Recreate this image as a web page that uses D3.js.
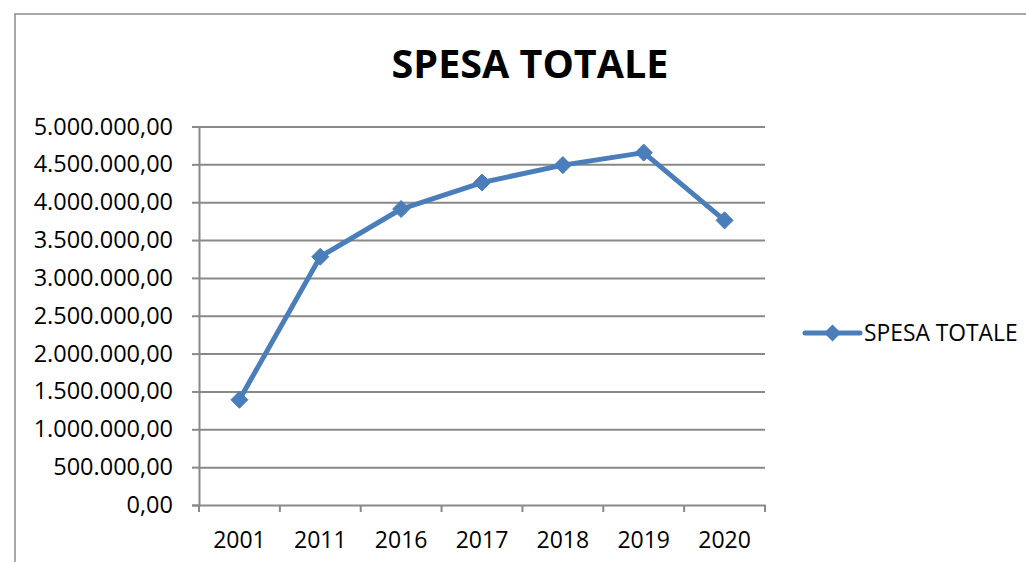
<!DOCTYPE html>
<html>
<head>
<meta charset="utf-8">
<script src="https://cdn.jsdelivr.net/npm/d3@7"></script>
<style>
  html, body { margin: 0; padding: 0; background: #fff; }
  svg { display: block; font-family: 'Open Sans', sans-serif; }
</style>
</head>
<body>
<div id="chart"></div>
<script>
// Data
const years = ['2001', '2011', '2016', '2017', '2018', '2019', '2020'];
const spesaTotale = [1390000, 3280000, 3910000, 4260000, 4490000, 4655000, 3760000];
const yTicks = [0, 500000, 1000000, 1500000, 2000000, 2500000, 3000000, 3500000, 4000000, 4500000, 5000000];
const seriesName = 'SPESA TOTALE';

const width = 1026;
const height = 562;
const lineColor = '#4a7ebb';
const axisColor = '#898989';

const svg = d3.select('#chart')
  .append('svg')
  .attr('width', width)
  .attr('height', height);

// Chart frame (cut off at right and bottom)
svg.append('path')
  .attr('d', `M15,${height} L15,14 L${width},14`)
  .attr('fill', 'none')
  .attr('stroke', '#8c8c8c')
  .attr('stroke-width', 1.5);

// Title
svg.append('text')
  .attr('x', 530)
  .attr('y', 78)
  .attr('text-anchor', 'middle')
  .attr('font-size', '39.5px')
  .attr('font-weight', 'bold')
  .attr('fill', '#000')
  .text('SPESA TOTALE');

const margin = { top: 126.5, left: 199, right: 765, bottom: 505 };

const x = d3.scaleBand()
  .domain(years)
  .range([margin.left, margin.right]);

const y = d3.scaleLinear()
  .domain([0, 5000000])
  .range([margin.bottom, margin.top]);

const itLocale = d3.formatLocale({ decimal: ',', thousands: '.', grouping: [3], currency: ['', ''] });
const fmt = itLocale.format(',.2f');

// Gridlines + Y axis
const yAxis = svg.append('g')
  .attr('transform', `translate(${margin.left},0)`)
  .call(d3.axisLeft(y)
    .tickValues(yTicks)
    .tickSize(7)
    .tickPadding(19)
    .tickFormat(fmt));
yAxis.select('.domain').attr('stroke', axisColor).attr('stroke-width', 2);
yAxis.selectAll('.tick line').attr('stroke', axisColor).attr('stroke-width', 2);
yAxis.selectAll('.tick text')
  .attr('font-size', '23.5px')
  .attr('font-family', "'Open Sans', sans-serif")
  .attr('fill', '#000');
yAxis.selectAll('.tick')
  .filter(d => d > 0)
  .append('line')
  .attr('x1', 0)
  .attr('x2', margin.right - margin.left)
  .attr('stroke', axisColor)
  .attr('stroke-width', 2);

// X axis
const xAxis = svg.append('g')
  .attr('transform', `translate(0,${margin.bottom})`)
  .call(d3.axisBottom(x).tickSize(0).tickPadding(27));
xAxis.select('.domain').attr('stroke', axisColor).attr('stroke-width', 2);
xAxis.selectAll('.tick text')
  .attr('font-size', '23px')
  .attr('font-family', "'Open Sans', sans-serif")
  .attr('fill', '#000');
// category boundary ticks
const bounds = years.map(d => x(d)).concat([x(years[years.length - 1]) + x.bandwidth()]);
xAxis.selectAll('.bound')
  .data(bounds)
  .enter()
  .append('line')
  .attr('class', 'bound')
  .attr('x1', d => d)
  .attr('x2', d => d)
  .attr('y1', 0)
  .attr('y2', 7)
  .attr('stroke', axisColor)
  .attr('stroke-width', 2);

// Line
const line = d3.line()
  .x((d, i) => x(years[i]) + x.bandwidth() / 2)
  .y(d => y(d));

svg.append('path')
  .datum(spesaTotale)
  .attr('fill', 'none')
  .attr('stroke', lineColor)
  .attr('stroke-width', 5)
  .attr('stroke-linejoin', 'round')
  .attr('d', line);

// Diamond markers
const diamond = d3.symbol().type(d3.symbolDiamond2).size(185);
svg.selectAll('.marker')
  .data(spesaTotale)
  .enter()
  .append('path')
  .attr('class', 'marker')
  .attr('d', diamond)
  .attr('transform', (d, i) => `translate(${x(years[i]) + x.bandwidth() / 2},${y(d)})`)
  .attr('fill', lineColor)
  .attr('stroke', lineColor)
  .attr('stroke-width', 1);

// Legend
const legend = svg.append('g').attr('transform', 'translate(805,333)');
legend.append('line')
  .attr('x1', 0)
  .attr('x2', 55)
  .attr('stroke', lineColor)
  .attr('stroke-width', 5)
  .attr('stroke-linecap', 'round');
legend.append('path')
  .attr('d', diamond)
  .attr('transform', 'translate(27.5,0)')
  .attr('fill', lineColor);
legend.append('text')
  .attr('x', 59)
  .attr('y', 0)
  .attr('dy', '0.35em')
  .attr('font-size', '22.8px')
  .attr('fill', '#000')
  .text(seriesName);
</script>
</body>
</html>
